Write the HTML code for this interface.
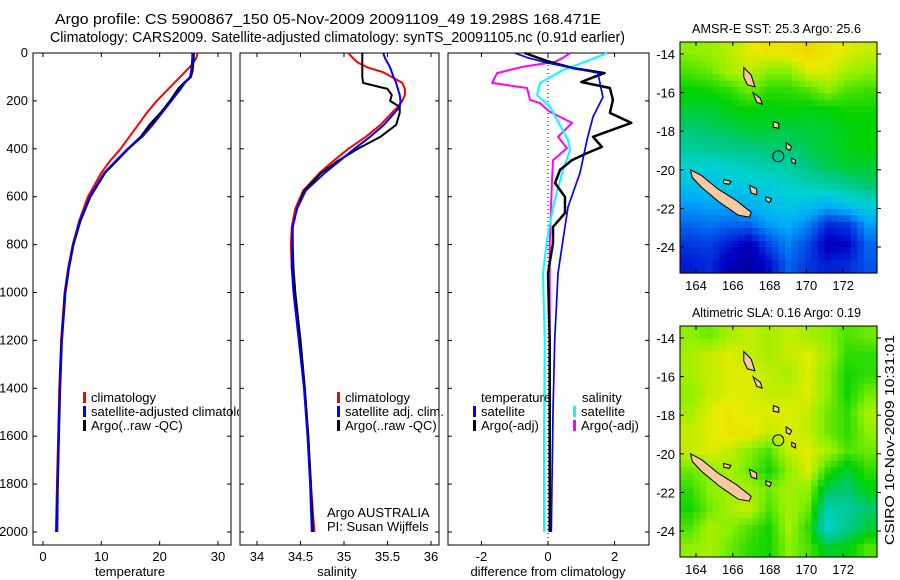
<!DOCTYPE html>
<html><head><meta charset="utf-8"><style>
html,body{margin:0;padding:0;background:#fff;}
svg{display:block;font-family:"Liberation Sans",Arial,sans-serif;}
</style></head><body>
<svg id="c" width="900" height="580" viewBox="0 0 900 580" xmlns="http://www.w3.org/2000/svg">
<defs><clipPath id="clip1"><rect x="0" y="0" width="239" height="580"/></clipPath></defs>
<rect width="900" height="580" fill="#fff"/>
<text x="55" y="24" font-size="14.5" textLength="546" lengthAdjust="spacingAndGlyphs">Argo profile: CS 5900867_150 05-Nov-2009 20091109_49 19.298S 168.471E</text>
<text x="50" y="42" font-size="14.5" textLength="575" lengthAdjust="spacingAndGlyphs">Climatology: CARS2009. Satellite-adjusted climatology: synTS_20091105.nc (0.91d earlier)</text>
<g id="g"></g>
</svg>
<script>
// ---- data ----
const tDepth=[0,20,50,75,100,125,150,200,250,300,350,400,450,500,600,700,800,900,1000,1200,1400,1600,1800,2000];
const tClim=[26.5,26.3,25.5,24.5,23.5,22.5,21.5,19.5,17.8,16.3,14.8,13.3,11.5,10.0,7.7,6.2,5.1,4.3,3.7,3.1,2.8,2.6,2.4,2.2];
const tSat=[25.6,25.6,25.5,25.4,25.2,24.3,23.6,22.0,20.4,18.8,17.0,14.5,12.5,10.5,8.0,6.3,5.2,4.4,3.8,3.2,2.9,2.7,2.5,2.4];
const tArgo=[25.8,25.8,25.7,25.6,25.3,24.2,23.2,21.8,20.2,18.3,16.8,14.6,12.6,10.6,8.1,6.4,5.2,4.4,3.8,3.2,2.9,2.7,2.5,2.4];
const sDepth=[0,20,40,60,80,100,125,150,175,200,225,250,300,350,400,450,500,575,650,725,800,900,1000,1200,1400,1600,1800,2000];
const sClim=[35.05,35.1,35.16,35.27,35.45,35.55,35.67,35.7,35.7,35.67,35.62,35.55,35.42,35.25,35.05,34.88,34.72,34.53,34.44,34.4,34.39,34.4,34.43,34.5,34.55,34.59,34.62,34.66];
const sSat=[35.45,35.47,35.5,35.53,35.55,35.57,35.6,35.62,35.64,35.65,35.64,35.58,35.46,35.3,35.12,34.95,34.78,34.56,34.46,34.41,34.4,34.4,34.42,34.48,34.54,34.58,34.61,34.63];
const sArgo=[35.21,35.21,35.21,35.21,35.21,35.21,35.22,35.5,35.55,35.53,35.64,35.64,35.6,35.42,35.16,34.93,34.74,34.54,34.46,34.41,34.41,34.42,34.44,34.5,34.55,34.59,34.62,34.64];
const dtSatDepth=[0,20,42,63,84,125,184,267,363,500,643,780,920,1200,1500,2000];
const dtSat=[-1,-0.6,0,0.75,1.5,1.56,1.65,1.35,1.17,0.96,0.6,0.45,0.3,0.2,0.15,0.1];
const dtArgoDepth=[0,20,37,63,84,105,121,146,196,250,292,350,392,418,447,488,543,601,668,726,793,920,1200,1600,2000];
const dtArgo=[-0.7,-0.3,0.06,0.75,1.7,1.3,1.0,1.86,1.95,1.86,2.5,1.35,1.62,1.17,0.72,0.36,0.21,0.51,0.51,0.15,0.15,0.0,0.05,0.05,0.05];
const dsArgoDepth=[0,20,37,57,84,125,146,196,209,246,292,350,397,447,530,800,1200,2000];
const dsArgo=[0.66,0.45,0.2,-0.75,-1.53,-1.68,-0.63,-0.54,-0.24,0.06,0.72,0.3,0.57,0.15,0.12,0.05,0.05,0.05];
const dsSatDepth=[0,29,71,125,175,225,363,405,500,643,780,920,1200,1600,2000];
const dsSat=[1.77,1.26,0.45,-0.24,-0.33,0.06,0.6,0.66,0.42,0.15,-0.03,-0.15,-0.1,-0.12,-0.12];
const depthTicks=[0,200,400,600,800,1000,1200,1400,1600,1800,2000];
const tTicks=[0,10,20,30];
const sTicks=[34,34.5,35,35.5,36];
const dTicks=[-2,0,2];
const lonTicks=[164,166,168,170,172];
const latTicks=[-14,-16,-18,-20,-22,-24];
const sstGrid=[
[.72,.73,.75,.78,.8,.8,.82,.8,.78,.76],
[.68,.7,.74,.76,.72,.72,.78,.78,.74,.72],
[.63,.64,.66,.7,.66,.66,.68,.72,.68,.67],
[.6,.6,.62,.63,.62,.63,.62,.63,.64,.64],
[.56,.57,.58,.6,.6,.59,.6,.6,.62,.63],
[.52,.53,.54,.55,.56,.56,.58,.6,.62,.63],
[.45,.44,.46,.48,.5,.51,.55,.58,.6,.6],
[.4,.4,.42,.42,.43,.46,.48,.5,.53,.56],
[.33,.34,.35,.37,.4,.42,.4,.36,.4,.44],
[.26,.28,.26,.26,.33,.36,.3,.18,.2,.33],
[.2,.21,.16,.1,.22,.3,.22,.1,.12,.26],
[.16,.18,.1,.06,.14,.26,.2,.16,.18,.24]];
const slaGrid=[
[.72,.7,.74,.76,.74,.76,.74,.72,.68,.7],
[.74,.76,.78,.76,.74,.76,.78,.74,.66,.66],
[.74,.76,.78,.78,.76,.74,.78,.72,.64,.66],
[.72,.76,.78,.78,.76,.76,.78,.72,.64,.7],
[.74,.78,.8,.78,.78,.78,.76,.7,.66,.74],
[.76,.78,.8,.8,.76,.78,.76,.7,.66,.72],
[.76,.78,.76,.72,.68,.76,.78,.74,.68,.7],
[.7,.72,.74,.7,.64,.72,.78,.66,.6,.66],
[.66,.72,.74,.74,.7,.74,.72,.58,.56,.62],
[.64,.7,.74,.76,.68,.74,.7,.5,.52,.56],
[.68,.74,.72,.68,.64,.74,.66,.46,.54,.6],
[.72,.74,.7,.66,.64,.72,.68,.6,.62,.68]];

const NS='http://www.w3.org/2000/svg';
const G=document.getElementById('g');
function el(tag,attrs,parent){const e=document.createElementNS(NS,tag);for(const k in attrs)e.setAttribute(k,attrs[k]);(parent||G).appendChild(e);return e;}
function txt(s,x,y,size,anchor,parent){const e=el('text',{x:x,y:y,'font-size':size,'text-anchor':anchor||'start'},parent);e.textContent=s;return e;}

const Y0=53,Y1=545;
const yD=d=>53+d*(479/2000);
const panels=[
 {name:'temperature',x0:33,x1:231,f:v=>43+v*5.833,ticks:tTicks,label:'temperature',lx:130},
 {name:'salinity',x0:240,x1:439,f:v=>257+(v-34)*87,ticks:sTicks,label:'salinity',lx:337},
 {name:'difference',x0:448,x1:649,f:v=>548+v*33.3,ticks:dTicks,label:'difference from climatology',lx:548}];

panels.forEach((p,i)=>{
 const g=el('g',{});
 
 
 const fr=el('rect',{x:p.x0,y:Y0,width:p.x1-p.x0,height:Y1-Y0,fill:'none',stroke:'#000','stroke-width':1},g);
 
 
 depthTicks.forEach(d=>{
  const y=yD(d);
  el('line',{x1:p.x0,x2:p.x0+4,y1:y,y2:y,stroke:'#000'},g);
  el('line',{x1:p.x1,x2:p.x1-4,y1:y,y2:y,stroke:'#000'},g);
  if(i===0){const t=txt(String(d),28,y+4,13,'end',g);
   
   }
 });
 p.ticks.forEach(v=>{
  const x=p.f(v);
  el('line',{x1:x,x2:x,y1:Y0,y2:Y0+4,stroke:'#000'},g);
  el('line',{x1:x,x2:x,y1:Y1,y2:Y1-4,stroke:'#000'},g);
  const t=txt(String(v),x,561,13,'middle',g);
  
  
 });
 const lab=txt(p.label,p.lx,576,13,'middle',g);
 
 
});

function line(depths,vals,f,color,w,name){
 const pts=depths.map((d,k)=>f(vals[k]).toFixed(1)+','+yD(d).toFixed(1)).join(' ');
 const e=el('polyline',{points:pts,fill:'none',stroke:color,'stroke-width':w,'stroke-linejoin':'round'});
 
 
}
el('line',{x1:548,x2:548,y1:Y0,y2:Y1,stroke:'#000','stroke-dasharray':'1,3','stroke-width':1});
line(tDepth,tClim,panels[0].f,'#ff0000',2,'temperature-climatology-line');
line(tDepth,tArgo,panels[0].f,'#000',2.5,'temperature-argo-line');
line(tDepth,tSat,panels[0].f,'#0000ff',2,'temperature-satellite-line');
line(sDepth,sClim,panels[1].f,'#ff0000',2,'salinity-climatology-line');
line(sDepth,sArgo,panels[1].f,'#000',2,'salinity-argo-line');
line(sDepth,sSat,panels[1].f,'#0000ff',2,'salinity-satellite-line');
line(dsArgoDepth,dsArgo,panels[2].f,'#ff00ff',2,'salinity-argo-diff-line');
line(dsSatDepth,dsSat,panels[2].f,'#00ffff',2,'salinity-satellite-diff-line');
line(dtArgoDepth,dtArgo,panels[2].f,'#000',2.5,'temperature-argo-diff-line');
line(dtSatDepth,dtSat,panels[2].f,'#0000ff',1.7,'temperature-satellite-diff-line');

function legend(x,y,color,label,clip){
 const r=el('rect',{x:x,y:y-10,width:3,height:11,fill:color});
 
 
 const t=txt(label,x+8,y,13);
 if(clip)t.setAttribute('clip-path','url(#clip1)');
 
 
}
legend(83,402,'#ff0000','climatology');
legend(83,416,'#0000ff','satellite-adjusted climatology',true);
legend(83,430,'#000','Argo(..raw -QC)');
legend(337,402,'#ff0000','climatology');
legend(337,416,'#0000ff','satellite adj. clim.');
legend(337,430,'#000','Argo(..raw -QC)');
{const t=txt('temperature',481,402,13);
 const u=txt('salinity',582,402,13);}
legend(473,416,'#0000ff','satellite');
legend(473,430,'#000','Argo(-adj)');
legend(573,416,'#00ffff','satellite');
legend(573,430,'#ff00ff','Argo(-adj)');
{const a=txt('Argo AUSTRALIA',327,517,13);
 const b=txt('PI: Susan Wijffels',327,531,13);}

const stops=[[0,[0,0,130]],[0.12,[0,0,200]],[0.22,[0,70,230]],[0.35,[0,170,250]],[0.45,[0,210,210]],[0.55,[0,200,130]],[0.63,[0,210,0]],[0.72,[140,240,0]],[0.79,[235,235,0]],[0.87,[245,180,0]],[1,[240,100,0]]];
function cmap(v){for(let i=1;i<stops.length;i++){if(v<=stops[i][0]){const a=stops[i-1],b=stops[i];const t=(v-a[0])/(b[0]-a[0]);const c=a[1].map((q,k)=>Math.round(q+(b[1][k]-q)*t));return 'rgb('+c.join(',')+')';}}return 'rgb(240,100,0)';}

function drawMap(oy,grid,title,name){
 const mx0=680,mx1=877,my0=oy-12,my1=oy+219;
 const lonX=lon=>696+(lon-164)*18.4;
 const latY=lat=>oy+(-14-lat)*19.3;
 const g=el('g',{});
 
 
 const R=grid.length,C=grid[0].length,up=3;
 const cw=(mx1-mx0)/(C*up),ch=(my1-my0)/(R*up);
 for(let r=0;r<R*up;r++)for(let c=0;c<C*up;c++){
  const fr=Math.min(Math.max((r+0.5)/up-0.5,0),R-1),fc=Math.min(Math.max((c+0.5)/up-0.5,0),C-1);
  const r0=Math.floor(fr),c0=Math.floor(fc),r1=Math.min(r0+1,R-1),c1=Math.min(c0+1,C-1);
  const tr=fr-r0,tc=fc-c0;
  const v=grid[r0][c0]*(1-tr)*(1-tc)+grid[r0][c1]*(1-tr)*tc+grid[r1][c0]*tr*(1-tc)+grid[r1][c1]*tr*tc;
  const cell=el('rect',{x:(mx0+c*cw).toFixed(2),y:(my0+r*ch).toFixed(2),width:(cw+0.6).toFixed(2),height:(ch+0.6).toFixed(2),fill:cmap(v)},g);
  
  
 }
 const isl=[
  [[163.7,-20.0],[164.3,-20.3],[165.2,-21.0],[166.2,-21.6],[167.0,-22.2],[166.9,-22.45],[166.3,-22.35],[165.3,-21.7],[164.3,-20.9],[163.8,-20.4]],
  [[166.6,-14.7],[167.0,-15.1],[167.2,-15.7],[166.8,-15.6],[166.6,-15.2]],
  [[167.1,-16.0],[167.5,-16.3],[167.6,-16.6],[167.3,-16.5]],
  [[168.2,-17.5],[168.5,-17.6],[168.5,-17.85],[168.2,-17.8]],
  [[168.9,-18.6],[169.2,-18.8],[169.1,-19.0],[168.9,-18.9]],
  [[169.2,-19.4],[169.4,-19.5],[169.4,-19.7],[169.2,-19.6]],
  [[165.5,-20.5],[165.9,-20.6],[165.8,-20.75],[165.5,-20.7]],
  [[166.9,-20.8],[167.3,-21.0],[167.3,-21.3],[167.0,-21.2]],
  [[167.8,-21.4],[168.1,-21.5],[168.0,-21.7],[167.8,-21.6]]];
 isl.forEach(poly=>{
  const p=el('polygon',{points:poly.map(q=>lonX(q[0]).toFixed(1)+','+latY(q[1]).toFixed(1)).join(' '),fill:'#f8c8a0',stroke:'#000','stroke-width':1},g);
  
  
 });
 const ci=el('circle',{cx:lonX(168.47),cy:latY(-19.3),r:5.5,fill:'none',stroke:'#000','stroke-width':1},g);
 
 
 el('rect',{x:mx0,y:my0,width:mx1-mx0,height:my1-my0,fill:'none',stroke:'#000'},g);
 lonTicks.forEach(l=>{const x=lonX(l);
  el('line',{x1:x,x2:x,y1:my0,y2:my0+4,stroke:'#000'},g);
  el('line',{x1:x,x2:x,y1:my1,y2:my1-4,stroke:'#000'},g);
  const t=txt(String(l),x,my1+17,13,'middle',g);
  
  });
 latTicks.forEach(l=>{const y=latY(l);
  el('line',{x1:mx0,x2:mx0+4,y1:y,y2:y,stroke:'#000'},g);
  el('line',{x1:mx1,x2:mx1+4,y1:y,y2:y,stroke:'#000'},g);
  const t=txt(String(l),675,y+5,13,'end',g);
  
  });
 const tt=txt(title,692,my0-9,13,'start',g);
 tt.setAttribute('textLength','169');
 tt.setAttribute('lengthAdjust','spacingAndGlyphs');
 
 
}
drawMap(54,sstGrid,'AMSR-E SST: 25.3 Argo: 25.6','sst-map');
drawMap(338,slaGrid,'Altimetric SLA: 0.16 Argo: 0.19','sla-map');
{const t=txt('CSIRO 10-Nov-2009 10:31:01',0,0,13,'middle');
 t.setAttribute('transform','translate(894,440) rotate(-90)');
 t.setAttribute('textLength','210');
 t.setAttribute('lengthAdjust','spacingAndGlyphs');
 
 }
</script>
</body></html>
